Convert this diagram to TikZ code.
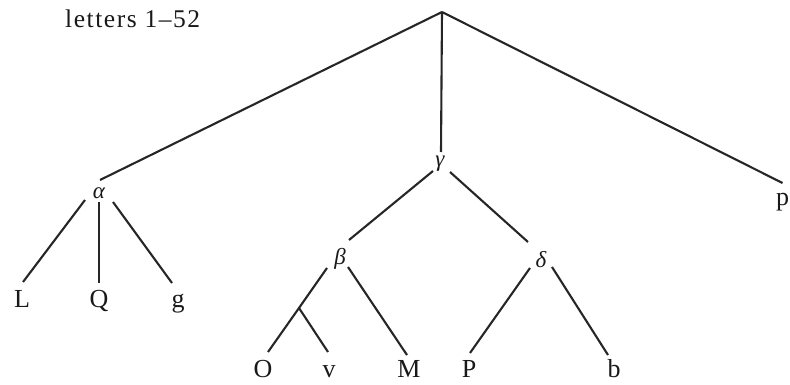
\documentclass[tikz,border=0pt]{standalone}
\usepackage{fontspec}
\setmainfont{Liberation Serif}
\begin{document}
\begin{tikzpicture}[x=1pt,y=-1pt,
  edge/.style={line width=2.1pt,color=black!85},
  leaf/.style={inner sep=0pt,anchor=base,font=\fontsize{26}{30}\selectfont,text=black!90},
  inner/.style={inner sep=0pt,anchor=base,font=\fontsize{23}{26}\selectfont\itshape,text=black!90},
  caption/.style={inner sep=0pt,anchor=base west,font=\fontsize{25.5}{30}\selectfont\addfontfeatures{LetterSpace=6},text=black!90}]
\useasboundingbox (0,0) rectangle (790,385);
\node[caption] (title) at (65,28) {letters 1–52};
\coordinate (root) at (442,12);
\node[inner] (alpha) at (99,198) {α};
\node[inner] (gamma) at (440,167) {γ};
\node[inner] (beta) at (340,264) {β};
\node[inner] (delta) at (541,267) {δ};
\node[leaf] (L) at (22,307) {L};
\node[leaf] (Q) at (99,307) {Q};
\node[leaf] (g) at (178,307) {g};
\node[leaf] (p) at (782.5,205) {p};
\node[leaf] (O) at (263,377) {O};
\node[leaf] (v) at (329,377) {v};
\node[leaf] (M) at (409,377) {M};
\node[leaf] (P) at (469,377) {P};
\node[leaf] (b) at (614,377) {b};
\coordinate (branch) at (299,308);
% root
\draw[edge] (root) -- ([shift={(1,-18)}]alpha.base);
\draw[edge] (root) -- ([shift={(1,-15)}]gamma.base);
\draw[edge] (root) -- ([shift={(0,-22)}]p.base);
% alpha
\draw[edge] ([shift={(-14,2)}]alpha.base) -- ([shift={(1,-25)}]L.base);
\draw[edge] ([shift={(0,4)}]alpha.base) -- ([shift={(0,-24)}]Q.base);
\draw[edge] ([shift={(14,4)}]alpha.base) -- ([shift={(-6,-24)}]g.base);
% gamma
\draw[edge] ([shift={(-7,4)}]gamma.base) -- ([shift={(9,-24)}]beta.base);
\draw[edge] ([shift={(10,5)}]gamma.base) -- ([shift={(-13,-25)}]delta.base);
% beta
\draw[edge] ([shift={(-13,4)}]beta.base) -- (branch) -- ([shift={(5,-25)}]O.base);
\draw[edge] (branch) -- ([shift={(-1,-25)}]v.base);
\draw[edge] ([shift={(8,3)}]beta.base) -- ([shift={(-2,-22)}]M.base);
% delta
\draw[edge] ([shift={(-11,1)}]delta.base) -- ([shift={(1,-24)}]P.base);
\draw[edge] ([shift={(11,0)}]delta.base) -- ([shift={(-6,-22)}]b.base);
\end{tikzpicture}
\end{document}
